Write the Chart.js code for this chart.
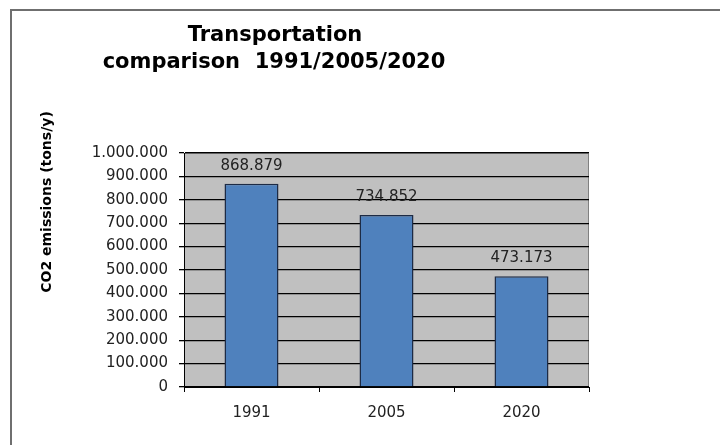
<!DOCTYPE html>
<html>
<head>
<meta charset="utf-8">
<script src="https://cdn.jsdelivr.net/npm/chart.js@4.4.1/dist/chart.umd.min.js"></script>
<style>
    html, body { margin: 0; padding: 0; background: #fff; }
    #wrap { position: relative; width: 720px; height: 445px; overflow: hidden; }
    #frame {
        position: absolute; left: 10px; top: 9px; right: -5px; bottom: -5px;
        border-top: 2px solid #6f6f6f; border-left: 2px solid #6f6f6f;
        pointer-events: none;
    }
</style>
</head>
<body>
<div id="wrap">
    <canvas id="co2Chart" width="720" height="445"></canvas>
    <div id="frame"></div>
</div>
<script>
const years = ['1991', '2005', '2020'];
const emissions = [868879, 734852, 473173];
const titleLines = ['Transportation', 'comparison  1991/2005/2020'];
const yAxisLabel = 'CO2 emissions (tons/y)';

const fontFamily = '"DejaVu Sans", Verdana, sans-serif';

// dots as thousand separators, like the original sheet
function formatNumber(v) {
    return String(Math.round(v)).replace(/\B(?=(\d{3})+(?!\d))/g, '.');
}

const plotBackground = {
    id: 'plotBackground',
    beforeDraw(chart) {
        const { ctx, chartArea: a } = chart;
        ctx.save();
        ctx.fillStyle = '#c0c0c0';
        ctx.fillRect(a.left, a.top, a.right - a.left, a.bottom - a.top);
        ctx.strokeStyle = '#808080';
        ctx.lineWidth = 1;
        ctx.strokeRect(a.left + 0.5, a.top + 0.5, a.right - a.left - 1, a.bottom - a.top);
        ctx.restore();
    }
};

const extraText = {
    id: 'extraText',
    afterDraw(chart) {
        const ctx = chart.ctx;
        ctx.save();
        ctx.fillStyle = '#000';
        ctx.textAlign = 'center';
        ctx.textBaseline = 'middle';
        ctx.font = 'bold 21px ' + fontFamily;
        ctx.fillText(titleLines[0], 275, 36);
        ctx.fillText(titleLines[1], 274, 63);

        ctx.translate(47, 202);
        ctx.rotate(-Math.PI / 2);
        ctx.font = 'bold 14px ' + fontFamily;
        ctx.fillText(yAxisLabel, 0, 0);
        ctx.restore();
    }
};

const valueLabels = {
    id: 'valueLabels',
    afterDatasetsDraw(chart) {
        const ctx = chart.ctx;
        const meta = chart.getDatasetMeta(0);
        ctx.save();
        ctx.fillStyle = '#222';
        ctx.textAlign = 'center';
        ctx.textBaseline = 'middle';
        ctx.font = '15px ' + fontFamily;
        meta.data.forEach((bar, i) => {
            ctx.fillText(formatNumber(emissions[i]), bar.x, bar.y - 18);
        });
        ctx.restore();
    }
};

const ctx = document.getElementById('co2Chart').getContext('2d');
const co2Chart = new Chart(ctx, {
    type: 'bar',
    data: {
        labels: years,
        datasets: [{
            data: emissions,
            backgroundColor: '#4f81bd',
            borderColor: '#1d2b45',
            borderWidth: 1.5,
            barPercentage: 0.8,
            categoryPercentage: 0.5
        }]
    },
    options: {
        responsive: false,
        animation: false,
        layout: { padding: { top: 153, right: 131, bottom: 0, left: 0 } },
        plugins: {
            legend: { display: false },
            title: { display: false },
            tooltip: { enabled: false }
        },
        scales: {
            x: {
                afterFit(scale) { scale.height = 58; },
                grid: {
                    offset: true,
                    drawOnChartArea: false,
                    drawTicks: true,
                    tickLength: 5,
                    color: '#000'
                },
                border: { color: '#000', width: 1 },
                ticks: {
                    color: '#222',
                    padding: 12,
                    font: { family: fontFamily, size: 15 }
                }
            },
            y: {
                min: 0,
                max: 1000000,
                afterFit(scale) { scale.width = 184; },
                grid: {
                    color: '#000',
                    lineWidth: 1.3,
                    tickLength: 5
                },
                border: { color: '#000', width: 1 },
                ticks: {
                    stepSize: 100000,
                    color: '#222',
                    padding: 11,
                    font: { family: fontFamily, size: 15 },
                    callback: value => formatNumber(value)
                }
            }
        }
    },
    plugins: [plotBackground, valueLabels, extraText]
});
</script>
</body>
</html>
